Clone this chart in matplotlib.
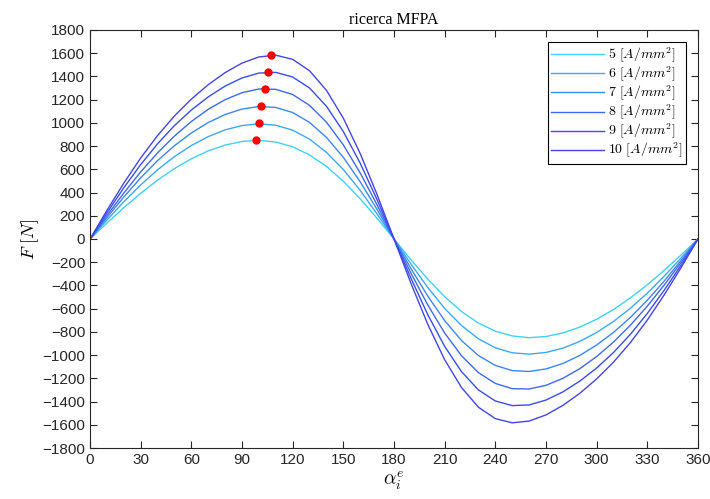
import matplotlib
matplotlib.use("Agg")
import matplotlib.pyplot as plt

# Ascissa: angolo elettrico ogni 10 gradi
alfa = list(range(0, 361, 10))

# Forza per le diverse densita di corrente
F5 = [0, 137, 270, 394, 507, 607, 691, 759, 809, 840, 850, 835, 794, 724, 625, 497, 346, 178, 0,
      -178, -346, -497, -625, -724, -794, -835, -850, -840, -809, -759, -691, -607, -507, -394, -270, -137, 0]
F6 = [0, 163, 320, 466, 596, 710, 805, 882, 940, 977, 992, 980, 937, 860, 746, 598, 418, 215, 0,
      -215, -418, -598, -746, -860, -937, -980, -992, -977, -940, -882, -805, -710, -596, -466, -320, -163, 0]
F7 = [0, 184, 362, 527, 675, 804, 913, 1003, 1072, 1119, 1141, 1133, 1089, 1004, 875, 703, 492, 254, 0,
      -254, -492, -703, -875, -1004, -1089, -1133, -1141, -1119, -1072, -1003, -913, -804, -675, -527, -362, -184, 0]
F8 = [0, 202, 396, 578, 742, 887, 1012, 1117, 1200, 1260, 1292, 1289, 1244, 1151, 1006, 810, 568, 293, 0,
      -293, -568, -810, -1006, -1151, -1244, -1289, -1292, -1260, -1200, -1117, -1012, -887, -742, -578, -396, -202, 0]
F9 = [0, 225, 441, 641, 820, 977, 1111, 1224, 1317, 1387, 1429, 1435, 1395, 1300, 1143, 925, 652, 337, 0,
      -337, -652, -925, -1143, -1300, -1395, -1435, -1429, -1387, -1317, -1224, -1111, -977, -820, -641, -441, -225, 0]
F10 = [0, 246, 481, 698, 891, 1060, 1205, 1329, 1433, 1515, 1568, 1583, 1547, 1449, 1280, 1040, 735, 381, 0,
       -381, -735, -1040, -1280, -1449, -1547, -1583, -1568, -1515, -1433, -1329, -1205, -1060, -891, -698, -481, -246, 0]

correnti = [5, 6, 7, 8, 9, 10]
forze = [F5, F6, F7, F8, F9, F10]

# Massimi (punti rossi)
alfa_max = [98.5, 99.9, 101.4, 103.4, 105.4, 107.3]
F_max = [850, 997, 1146, 1295, 1441, 1585]

colori = ["#40d0f8", "#3ca8f6", "#3d86f3", "#4068f0", "#3a4cee", "#4444ee"]

plt.rcParams["mathtext.fontset"] = "cm"
plt.rcParams["font.family"] = ["Liberation Sans", "DejaVu Sans"]

fig = plt.figure(figsize=(7.1, 4.99), dpi=100)
ax = fig.add_axes([0.1268, 0.1022, 0.8563, 0.8377])

for I, F, c in zip(correnti, forze, colori):
    ax.plot(alfa, F, color=c, lw=1.0, label=r"$%d\ [A/mm^2]$" % I)

ax.plot(alfa_max, F_max, "o", color="red", markersize=5, zorder=5)

ax.set_xlim(0, 360)
ax.set_ylim(-1800, 1800)
ax.set_xticks(range(0, 361, 30))
ax.set_yticks(range(-1800, 1801, 200))
ax.tick_params(direction="in", length=5, width=0.8, top=True, right=True,
               labelsize=11, colors="#262626")
for s in ax.spines.values():
    s.set_color("#262626")
    s.set_linewidth(0.8)

ax.set_title("ricerca MFPA", family="Liberation Serif", fontsize=11.5, pad=4)
ax.set_xlabel(r"$\alpha_i^e$", fontsize=14, labelpad=2)
ax.set_ylabel(r"$F\ [N]$", fontsize=13, labelpad=1)

leg = ax.legend(loc="upper right", fontsize=10, fancybox=False, framealpha=1,
                edgecolor="black", handlelength=3.8, borderpad=0.25,
                labelspacing=0.0, handletextpad=0.3, borderaxespad=0,
                bbox_to_anchor=(0.980, 0.971))
leg.get_frame().set_linewidth(0.8)

fig.savefig("out.png", dpi=100)
